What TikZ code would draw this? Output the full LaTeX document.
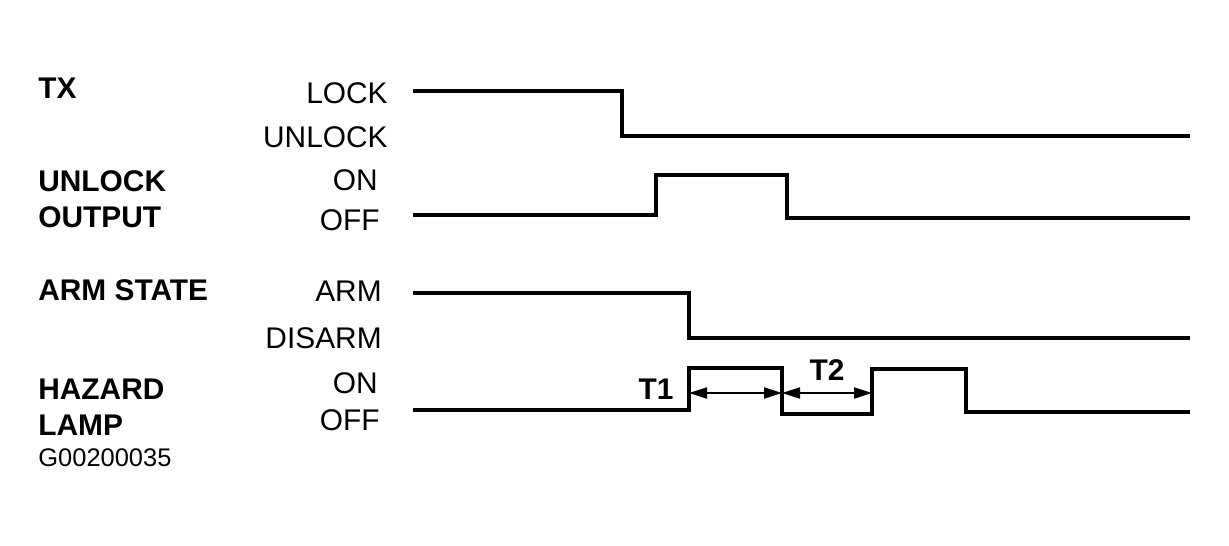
\documentclass[tikz,border=0pt]{standalone}
\usepackage{fontspec}
\setmainfont{Liberation Sans}
\usetikzlibrary{arrows.meta, positioning}

\begin{document}
\begin{tikzpicture}[
    x=0.02cm, y=-0.02cm,
    signame/.style={
        anchor=west,
        inner sep=0pt,
        font=\fontsize{17}{19}\selectfont\bfseries
    },
    level/.style={
        anchor=east,
        inner sep=0pt,
        font=\fontsize{17}{19}\selectfont
    },
    wave/.style={
        line width=0.065cm,
        line join=miter
    },
    span/.style={
        line width=0.04cm,
        {Triangle[length=0.36cm, width=0.22cm]}-{Triangle[length=0.36cm, width=0.22cm]}
    }
]

\useasboundingbox (0,0) rectangle (1229,545);

% Signal names
\node[signame] (tx) at (38, 88) {TX};
\node[signame] (unlockA) at (38, 181) {UNLOCK};
\node[signame] (unlockB) at (38, 217) {OUTPUT};
\node[signame] (armstate) at (38, 290) {ARM STATE};
\node[signame] (hazardA) at (38, 389) {HAZARD};
\node[signame] (hazardB) at (38, 425) {LAMP};
\node[anchor=west, inner sep=0pt, font=\fontsize{14.5}{16}\selectfont] (code) at (38, 458) {G00200035};

% Levels
\node[level] (lock) at (388, 93) {LOCK};
\node[level] (unlock) at (388, 137) {UNLOCK};
\node[level] (outon) at (378, 180) {ON};
\node[level] (outoff) at (380, 220) {OFF};
\node[level] (arm) at (382, 291) {ARM};
\node[level] (disarm) at (382, 338) {DISARM};
\node[level] (lampon) at (378, 383) {ON};
\node[level] (lampoff) at (380, 420) {OFF};

% Waveforms
\draw[wave] (413, 91) -- (622, 91) -- (622, 136) -- (1190, 136);
\draw[wave] (413, 215) -- (656, 215) -- (656, 175) -- (787, 175) -- (787, 218) -- (1190, 218);
\draw[wave] (413, 293) -- (689, 293) -- (689, 338) -- (1190, 338);
\draw[wave] (413, 410) -- (689, 410) -- (689, 368) -- (782, 368) -- (782, 414)
    -- (872, 414) -- (872, 369) -- (966, 369) -- (966, 412) -- (1190, 412);

% Timing spans
\coordinate (t1a) at (689, 393);
\coordinate (t1b) at (782, 393);
\coordinate (t2b) at (872, 393);
\draw[span] (t1a) -- (t1b);
\draw[span] (t1b) -- (t2b);
\node[font=\fontsize{17}{19}\selectfont\bfseries, inner sep=0pt] (t1) at (656, 389) {T1};
\node[font=\fontsize{17}{19}\selectfont\bfseries, inner sep=0pt] (t2) at (827, 370) {T2};

\end{tikzpicture}
\end{document}
